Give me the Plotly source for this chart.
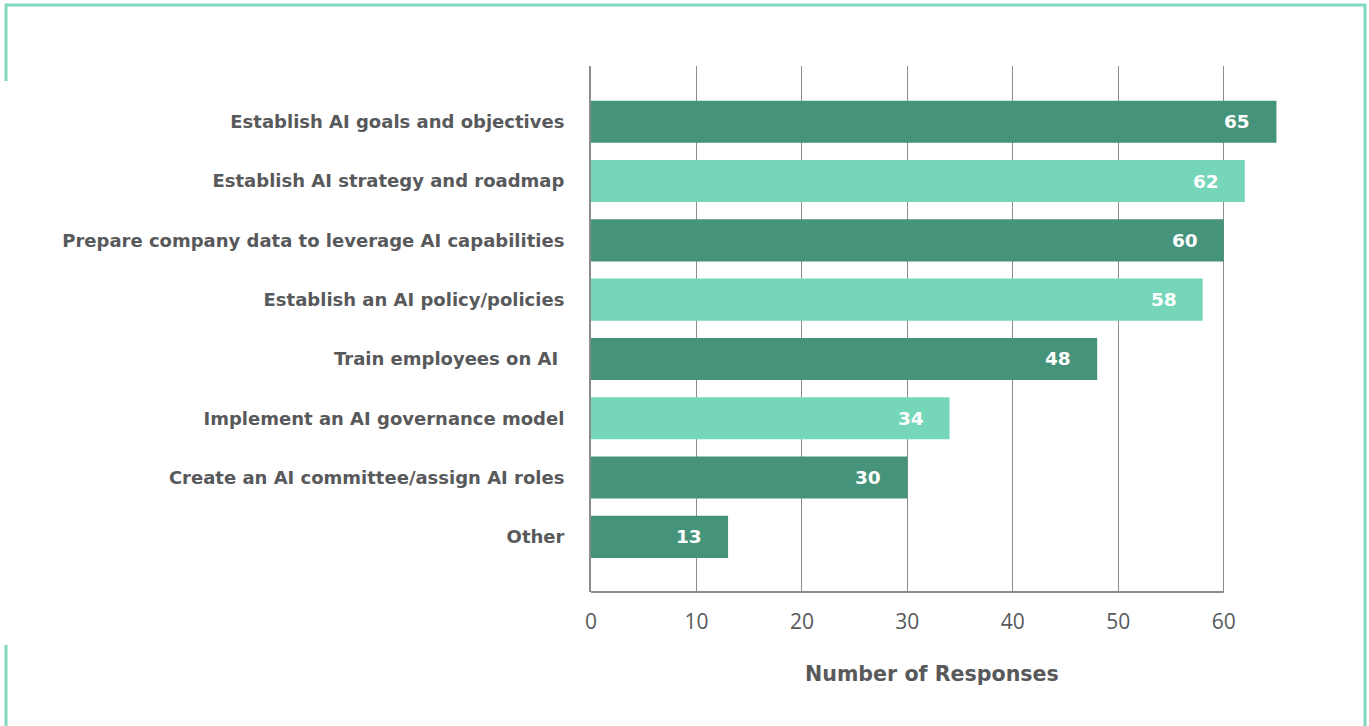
import plotly.graph_objects as go

categories = [
    "Establish AI goals and objectives",
    "Establish AI strategy and roadmap",
    "Prepare company data to leverage AI capabilities",
    "Establish an AI policy/policies",
    "Train employees on AI ",
    "Implement an AI governance model",
    "Create an AI committee/assign AI roles",
    "Other",
]
values = [65, 62, 60, 58, 48, 34, 30, 13]
dark = "#44937a"
light = "#76d6ba"
bar_colors = [dark, light, dark, light, dark, light, dark, dark]
x_ticks = [0, 10, 20, 30, 40, 50, 60]

W, H = 1369, 726
L, R, T, B = 591, 1287, 66, 592

def px(x):
    return (x - L) / (R - L)

def py(y):
    return (B - y) / (B - T)

text_col = "#58595b"
label_font = "DejaVu Sans, sans-serif"
tick_font = "Open Sans, sans-serif"
axis_col = "#8c8c8c"

fig = go.Figure()
fig.add_trace(go.Bar(
    x=values,
    y=categories,
    orientation="h",
    marker=dict(color=bar_colors, line=dict(width=0)),
    width=0.71,
    hoverinfo="x+y",
))

annotations = []
for c, v in zip(categories, values):
    annotations.append(dict(
        x=v, y=c, xref="x", yref="y", text=str(v), showarrow=False,
        xanchor="right", xshift=-24,
        font=dict(color="white", size=18.5, family=label_font, weight=700),
    ))
annotations.append(dict(
    x=px(932), y=py(674), xref="paper", yref="paper", text="Number of Responses",
    showarrow=False, xanchor="center", yanchor="middle",
    font=dict(color=text_col, size=20.6, family=label_font, weight=700),
))

border = "#7dd8bf"
shapes = [
    dict(type="line", xref="paper", yref="paper", x0=px(5), x1=px(1366), y0=py(5), y1=py(5),
         line=dict(color=border, width=3)),
    dict(type="line", xref="paper", yref="paper", x0=px(6), x1=px(6), y0=py(4), y1=py(81),
         line=dict(color=border, width=3)),
    dict(type="line", xref="paper", yref="paper", x0=px(6), x1=px(6), y0=py(645), y1=py(726),
         line=dict(color=border, width=3)),
    dict(type="line", xref="paper", yref="paper", x0=px(1365), x1=px(1365), y0=py(4), y1=py(726),
         line=dict(color=border, width=3)),
    # bottom axis line, spanning only the tick range
    dict(type="line", xref="x", yref="paper", x0=x_ticks[0], x1=x_ticks[-1], y0=0, y1=0,
         line=dict(color=axis_col, width=2), layer="above"),
]

fig.update_layout(
    width=W, height=H,
    margin=dict(l=L, r=W - R, t=T, b=H - B, pad=0),
    plot_bgcolor="white", paper_bgcolor="white",
    showlegend=False,
    annotations=annotations,
    shapes=shapes,
    xaxis=dict(
        range=[0, 66], tickvals=x_ticks, ticktext=[str(t) for t in x_ticks],
        showgrid=True, gridcolor=axis_col, gridwidth=1,
        showline=False,
        zeroline=False, ticks="", ticklabelstandoff=15,
        tickfont=dict(size=21, color=text_col, family=tick_font),
        fixedrange=True,
    ),
    yaxis=dict(
        categoryorder="array", categoryarray=categories[::-1],
        range=[-0.93, 7.94],
        showgrid=False, showline=True, linecolor=axis_col, linewidth=2,
        ticks="", ticklabelstandoff=21,
        tickfont=dict(size=18, color=text_col, family=label_font, weight=700),
        fixedrange=True,
    ),
)

fig.write_html("out.html")
